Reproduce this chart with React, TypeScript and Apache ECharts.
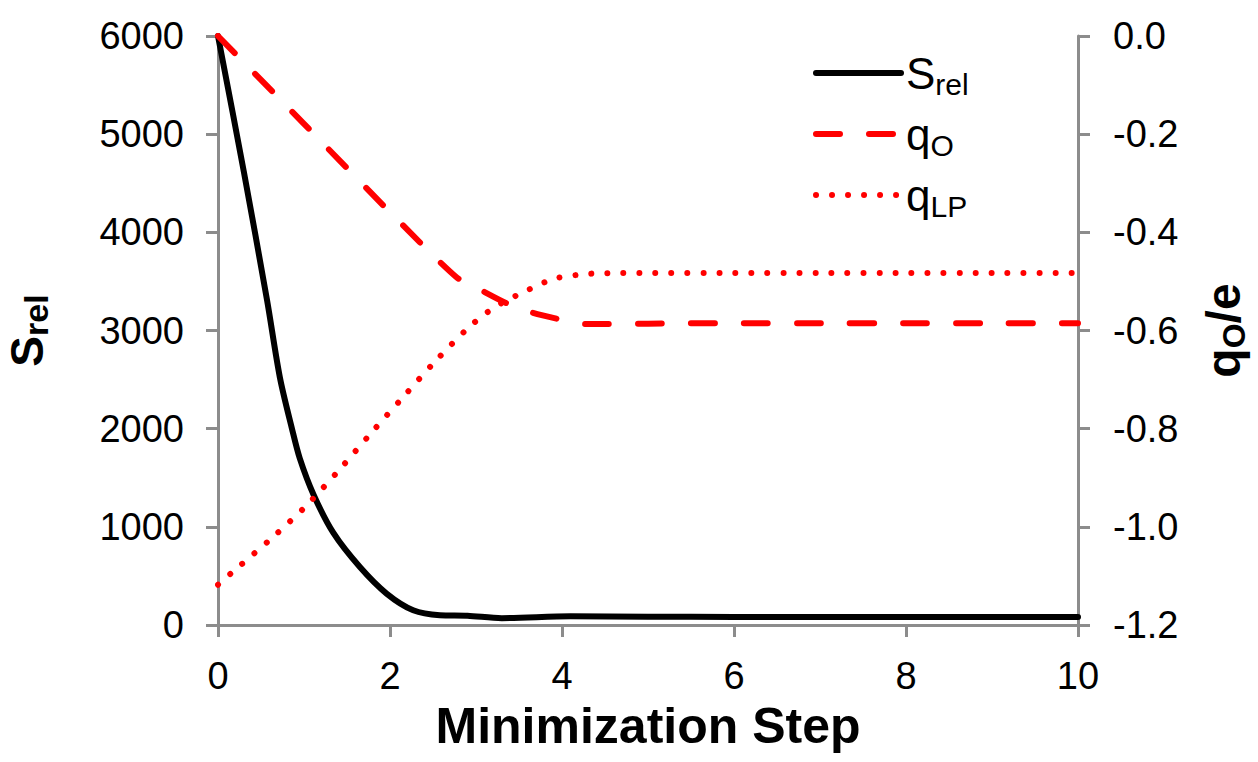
import React, { useEffect, useRef } from "react";
import * as echarts from "echarts";

// ---- data ----
const sRelSteps = [0, 0.3, 0.57, 0.72, 0.86, 0.95, 1.11, 1.34, 1.65, 1.96, 2.27, 2.58, 2.9, 3.3, 4.1, 5, 6, 7, 8, 9, 10];
const sRelValues = [6000, 4620, 3310, 2520, 2000, 1700, 1330, 940, 590, 320, 150, 100, 95, 70, 88, 85, 82, 82, 82, 82, 82];

const qOSteps = [0, 1, 2, 2.77, 3.05, 3.35, 3.66, 4.02, 4.3, 5, 6, 7, 8, 9, 10];
const qOValues = [0, -0.179, -0.359, -0.491, -0.517, -0.544, -0.564, -0.579, -0.587, -0.586, -0.585, -0.585, -0.585, -0.585, -0.585];

const qLPSteps = [0, 0.17, 0.6, 1.01, 1.4, 1.77, 2.14, 2.52, 2.92, 3.22, 3.55, 3.9, 4.27, 4.6, 5, 6, 7, 8, 9, 10];
const qLPValues = [-1.118, -1.092, -1.027, -0.96, -0.886, -0.811, -0.738, -0.664, -0.593, -0.552, -0.522, -0.495, -0.485, -0.483, -0.483, -0.483, -0.483, -0.483, -0.483, -0.483];

const seriesNames = ["{b|S}{s|rel}", "{b|q}{s|O}", "{b|q}{s|LP}"];

const FONT = "'Liberation Sans', Arial, sans-serif";
const AXIS_GRAY = "#8c8c8c";

const zip = (xs: number[], ys: number[]) => xs.map((x, i) => [x, ys[i]]);

export default function App() {
  const ref = useRef<HTMLDivElement>(null);

  useEffect(() => {
    if (!ref.current) return;
    const chart = echarts.init(ref.current, undefined, { renderer: "svg" });

    const axisCommon = {
      axisLine: { show: true, lineStyle: { color: AXIS_GRAY, width: 3 } },
      axisTick: { show: true, inside: false, length: 12, lineStyle: { color: AXIS_GRAY, width: 3 } },
      splitLine: { show: false },
    };
    const labelStyle = { fontFamily: FONT, fontSize: 38, color: "#000" };

    const dashed = [24, 29];
    const dotted = [0.01, 16];
    const hiddenSymbol = { color: "rgba(0,0,0,0)", opacity: 0, borderWidth: 0 };

    chart.setOption({
      animation: false,
      backgroundColor: "#fff",
      grid: { left: 218, right: 180, top: 36, bottom: 137, outerBoundsMode: "none", containLabel: false },
      legend: {
        orient: "vertical",
        left: 808,
        top: 46,
        itemWidth: 85,
        itemHeight: 14,
        itemGap: 13,
        selectedMode: false,
        data: [
          { name: seriesNames[0], itemStyle: hiddenSymbol, lineStyle: { color: "#000", width: 6, type: "solid", cap: "round" } },
          { name: seriesNames[1], itemStyle: hiddenSymbol, lineStyle: { color: "#ff0000", width: 6, type: dashed, cap: "round" } },
          { name: seriesNames[2], itemStyle: hiddenSymbol, lineStyle: { color: "#ff0000", width: 6, type: dotted, cap: "round" } },
        ],
        textStyle: {
          padding: [0, 0, 0, 0],
          rich: {
            b: { fontFamily: FONT, fontSize: 44, color: "#000", lineHeight: 52 },
            s: { fontFamily: FONT, fontSize: 30, color: "#000", lineHeight: 20, verticalAlign: "bottom" },
          },
        },
      },
      xAxis: {
        type: "value",
        min: 0,
        max: 10,
        interval: 2,
        ...axisCommon,
        axisLabel: { ...labelStyle, margin: 32 },
        name: "Minimization Step",
        nameLocation: "middle",
        nameGap: 76,
        nameTextStyle: { fontFamily: FONT, fontSize: 50, fontWeight: "bold", color: "#000", lineHeight: 50 },
      },
      yAxis: [
        {
          type: "value",
          position: "left",
          min: 0,
          max: 6000,
          interval: 1000,
          ...axisCommon,
          axisLabel: { ...labelStyle, margin: 34, formatter: (v: number) => String(Math.round(v)) },
          name: "{b|S}{s|rel}",
          nameLocation: "middle",
          nameRotate: 90,
          nameGap: 165,
          nameTextStyle: {
            rich: {
              b: { fontFamily: FONT, fontSize: 46, fontWeight: "bold", color: "#000", lineHeight: 52 },
              s: { fontFamily: FONT, fontSize: 34, fontWeight: "bold", color: "#000", lineHeight: 10, verticalAlign: "bottom" },
            },
          },
        },
        {
          type: "value",
          position: "right",
          min: -1.2,
          max: 0,
          interval: 0.2,
          ...axisCommon,
          axisLabel: {
            ...labelStyle,
            margin: 35,
            formatter: (v: number) => (Math.abs(v) < 1e-9 ? "0.0" : v.toFixed(1)),
          },
          name: "{b|q}{s|O}{b|/e}",
          nameLocation: "middle",
          nameRotate: 90,
          nameGap: 118,
          nameTextStyle: {
            rich: {
              b: { fontFamily: FONT, fontSize: 48, fontWeight: "bold", color: "#000", lineHeight: 54 },
              s: { fontFamily: FONT, fontSize: 32, fontWeight: "bold", color: "#000", lineHeight: 23, verticalAlign: "bottom" },
            },
          },
        },
      ],
      series: [
        {
          name: seriesNames[0],
          type: "line",
          yAxisIndex: 0,
          data: zip(sRelSteps, sRelValues),
          symbol: "none",
          smooth: 0.3,
          lineStyle: { color: "#000", width: 6, type: "solid", cap: "round", join: "round" },
          itemStyle: { color: "#000" },
          z: 2,
        },
        {
          name: seriesNames[1],
          type: "line",
          yAxisIndex: 1,
          data: zip(qOSteps, qOValues),
          symbol: "none",
          smooth: 0.25,
          lineStyle: { color: "#ff0000", width: 6, type: dashed, cap: "round", join: "round" },
          itemStyle: { color: "#ff0000" },
          z: 3,
        },
        {
          name: seriesNames[2],
          type: "line",
          yAxisIndex: 1,
          data: zip(qLPSteps, qLPValues),
          symbol: "none",
          smooth: 0.25,
          lineStyle: { color: "#ff0000", width: 6, type: dotted, cap: "round", join: "round" },
          itemStyle: { color: "#ff0000" },
          z: 4,
        },
      ],
    });

    return () => chart.dispose();
  }, []);

  return (
    <div
      ref={ref}
      style={{ position: "fixed", left: 0, top: 0, width: 1258, height: 762, background: "#fff" }}
    />
  );
}
